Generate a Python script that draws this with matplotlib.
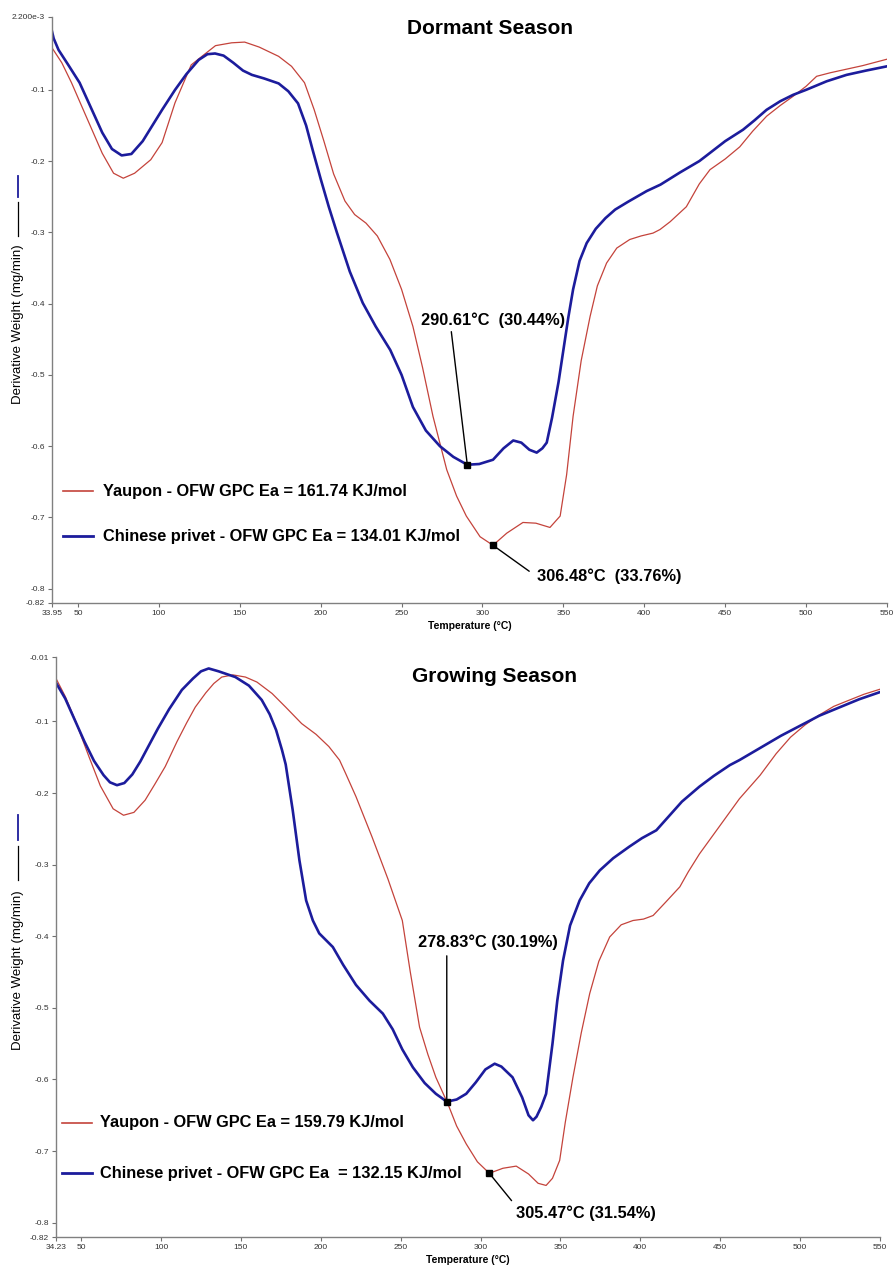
import matplotlib
matplotlib.use('Agg')
import matplotlib.pyplot as plt
from matplotlib.lines import Line2D
import numpy as np

plt.rcParams['font.family'] = ['Liberation Sans', 'DejaVu Sans']

# ---- Dormant season DTG curves (temperature in C, derivative weight in mg/min)
dorm_yaupon_t = [33.95, 40, 46, 55, 65, 72, 78, 85, 95, 102, 110, 120, 126.6, 135, 145, 153,
                 162, 174, 182, 190, 196, 202, 208, 215, 221, 228, 235, 242.8, 250, 257, 263,
                 269.4, 277.9, 284, 290, 298.5, 306.48, 315, 325, 333, 341.7, 348, 352, 356,
                 361, 366.5, 371, 376.7, 383, 391, 398, 405.4, 409.7, 416, 426, 434, 440.6,
                 450, 459, 467, 475.6, 484, 492, 500, 506.5, 515, 523, 535, 550]
dorm_yaupon_d = [-0.041, -0.062, -0.090, -0.137, -0.189, -0.217, -0.224, -0.217, -0.198, -0.174,
                 -0.118, -0.065, -0.053, -0.038, -0.034, -0.033, -0.040, -0.053, -0.067, -0.090,
                 -0.128, -0.172, -0.218, -0.256, -0.275, -0.287, -0.305, -0.338, -0.380, -0.432,
                 -0.490, -0.558, -0.633, -0.670, -0.698, -0.727, -0.739, -0.722, -0.707, -0.708,
                 -0.714, -0.698, -0.640, -0.558, -0.480, -0.418, -0.375, -0.343, -0.322, -0.310,
                 -0.305, -0.301, -0.296, -0.285, -0.264, -0.232, -0.212, -0.197, -0.180, -0.158,
                 -0.137, -0.122, -0.109, -0.095, -0.081, -0.076, -0.072, -0.066, -0.057]

dorm_privet_t = [33.95, 35, 38, 44, 51, 58, 65, 71, 77, 83, 90, 96, 102, 110, 117, 124.6, 130,
                 134.7, 140, 146, 152, 157.5, 165, 174, 180, 186, 191, 195, 200, 205, 210, 218,
                 226, 234, 243, 250, 257, 265, 273.7, 282, 290.61, 298, 306.5, 313, 319, 324,
                 329, 333.5, 337, 339.7, 343, 347, 350, 353, 356, 360, 364.4, 370, 376, 382,
                 390, 401.5, 410, 422, 434, 438.6, 450, 461, 468, 475.6, 484, 492, 500, 512.7,
                 525, 537, 550]
dorm_privet_d = [-0.018, -0.028, -0.044, -0.065, -0.090, -0.125, -0.160, -0.183, -0.192, -0.190,
                 -0.172, -0.150, -0.128, -0.100, -0.078, -0.058, -0.050, -0.049, -0.052, -0.062,
                 -0.073, -0.079, -0.084, -0.091, -0.102, -0.119, -0.150, -0.184, -0.225, -0.264,
                 -0.300, -0.355, -0.399, -0.432, -0.465, -0.500, -0.545, -0.578, -0.600, -0.615,
                 -0.626, -0.625, -0.619, -0.603, -0.592, -0.595, -0.605, -0.609, -0.603, -0.595,
                 -0.560, -0.510, -0.465, -0.420, -0.380, -0.340, -0.315, -0.295, -0.280, -0.268,
                 -0.257, -0.242, -0.233, -0.216, -0.200, -0.192, -0.172, -0.156, -0.143, -0.128,
                 -0.116, -0.107, -0.100, -0.088, -0.079, -0.073, -0.067]

# ---- Growing season DTG curves
grow_yaupon_t = [34.23, 40, 46.2, 55, 62, 70, 76.5, 83, 90, 96, 102.6, 110, 116, 121.4, 128,
                 133, 138, 145, 152.8, 160, 169.5, 178, 188, 197, 205, 211.7, 215.4, 222, 232,
                 242, 251, 256, 261.8, 267, 272, 279.5, 285, 291, 298, 305.47, 314, 322.3, 330,
                 336, 341, 345, 349.5, 353, 357.8, 363, 368.3, 374, 380.8, 388, 395.4, 402, 408,
                 416, 424.7, 430, 437, 450, 462, 475, 485, 494, 503, 512, 521, 531, 540, 550]
grow_yaupon_d = [-0.040, -0.065, -0.098, -0.150, -0.190, -0.222, -0.231, -0.227, -0.210, -0.188,
                 -0.163, -0.128, -0.102, -0.080, -0.060, -0.047, -0.038, -0.035, -0.038, -0.045,
                 -0.061, -0.080, -0.103, -0.118, -0.135, -0.154, -0.172, -0.205, -0.261, -0.320,
                 -0.378, -0.450, -0.527, -0.565, -0.597, -0.634, -0.665, -0.690, -0.715, -0.731,
                 -0.724, -0.721, -0.732, -0.745, -0.748, -0.738, -0.713, -0.660, -0.597, -0.535,
                 -0.480, -0.435, -0.401, -0.384, -0.378, -0.376, -0.371, -0.352, -0.331, -0.310,
                 -0.285, -0.245, -0.208, -0.175, -0.145, -0.122, -0.105, -0.091, -0.079, -0.070,
                 -0.062, -0.055]

grow_privet_t = [34.23, 40, 46, 52, 58, 64, 68, 72.4, 77, 82, 87, 92, 98, 105, 113, 120, 125,
                 129.8, 136, 146.5, 155, 163, 168, 172, 175.7, 178, 182.4, 186.6, 190.8, 195, 199,
                 207.5, 214, 222, 230.5, 238.8, 245, 251, 257.6, 265, 272, 278.83, 285, 291, 297,
                 303, 308.8, 313, 320, 326, 330, 332.8, 335, 338, 341, 345, 348, 351.6, 356, 362,
                 368, 374.6, 383, 393, 401, 410, 418, 426, 437, 446, 456, 462, 475, 488, 500,
                 512, 525, 537, 550]
grow_privet_d = [-0.046, -0.068, -0.098, -0.128, -0.155, -0.175, -0.185, -0.189, -0.186, -0.174,
                 -0.156, -0.135, -0.110, -0.083, -0.056, -0.040, -0.030, -0.026, -0.030, -0.038,
                 -0.050, -0.070, -0.090, -0.112, -0.140, -0.160, -0.224, -0.294, -0.350, -0.378,
                 -0.396, -0.415, -0.440, -0.468, -0.490, -0.508, -0.530, -0.558, -0.583, -0.605,
                 -0.620, -0.631, -0.628, -0.620, -0.604, -0.586, -0.578, -0.582, -0.597, -0.625,
                 -0.650, -0.657, -0.652, -0.638, -0.620, -0.550, -0.490, -0.434, -0.385, -0.350,
                 -0.326, -0.308, -0.291, -0.275, -0.263, -0.252, -0.232, -0.212, -0.191, -0.176,
                 -0.161, -0.154, -0.137, -0.120, -0.106, -0.092, -0.080, -0.069, -0.059]

# peak temperatures and mass-loss labels
dorm_peaks = [290.61, 306.48]
dorm_peak_labels = ['290.61°C  (30.44%)', '306.48°C  (33.76%)']
grow_peaks = [278.83, 305.47]
grow_peak_labels = ['278.83°C (30.19%)', '305.47°C (31.54%)']

dorm_legend = ['Yaupon - OFW GPC Ea = 161.74 KJ/mol',
               'Chinese privet - OFW GPC Ea = 134.01 KJ/mol']
grow_legend = ['Yaupon - OFW GPC Ea = 159.79 KJ/mol',
               'Chinese privet - OFW GPC Ea  = 132.15 KJ/mol']

dorm_yticks = [0.0022, -0.1, -0.2, -0.3, -0.4, -0.5, -0.6, -0.7, -0.8, -0.82]
dorm_yticklabels = ['2.200e-3', '-0.1', '-0.2', '-0.3', '-0.4', '-0.5', '-0.6', '-0.7', '-0.8', '-0.82']
grow_yticks = [-0.01, -0.1, -0.2, -0.3, -0.4, -0.5, -0.6, -0.7, -0.8, -0.82]
grow_yticklabels = ['-0.01', '-0.1', '-0.2', '-0.3', '-0.4', '-0.5', '-0.6', '-0.7', '-0.8', '-0.82']
xticks_main = [50, 100, 150, 200, 250, 300, 350, 400, 450, 500, 550]

RED = '#c4433b'
BLUE = '#1c1c9c'
W, H = 896, 1268


def fx(px):
    return px / W


def fy(py):
    return 1 - py / H


def draw_panel(fig, rect, yaupon, privet, t0, yticks, yticklabels, title, title_xy,
               legend, leg_y, peaks, peak_labels, offsets, ylab_span):
    ax = fig.add_axes(rect)
    ax.plot(yaupon[0], yaupon[1], color=RED, lw=0.9)
    ax.plot(privet[0], privet[1], color=BLUE, lw=1.9)

    ax.set_xlim(t0, 550)
    ax.set_ylim(-0.82, yticks[0])
    ax.set_xticks([t0] + xticks_main)
    ax.set_xticklabels(['%.2f' % t0] + [str(v) for v in xticks_main])
    ax.set_yticks(yticks)
    ax.set_yticklabels(yticklabels)
    ax.tick_params(labelsize=6, colors='#707070', labelcolor='#333333', length=3, width=0.8, pad=2)
    for s in ['top', 'right']:
        ax.spines[s].set_visible(False)
    for s in ['left', 'bottom']:
        ax.spines[s].set_color('#808080')
        ax.spines[s].set_linewidth(1.0)

    ax.set_xlabel('Temperature (°C)', fontsize=7.5, fontweight='bold', labelpad=3)

    # legend drawn by hand: short line + label
    for (lab, col, lw), yy in zip([(legend[0], RED, 1.2), (legend[1], BLUE, 2.0)], leg_y):
        ax.add_line(Line2D([leg_y[2], leg_y[3]], [yy, yy], color=col, lw=lw,
                           transform=ax.transAxes))
        ax.text(leg_y[4], yy, lab, transform=ax.transAxes, fontsize=11.8, fontweight='bold',
                va='center', ha='left')

    # peak markers with leader lines
    for (t, lab, off), curve in zip(zip(peaks, peak_labels, offsets), [privet, yaupon]):
        d = np.interp(t, curve[0], curve[1])
        ax.plot([t], [d], 's', color='black', ms=4.5, zorder=5)
        ax.annotate('', xy=(t, d), xytext=off[0], textcoords='offset points',
                    arrowprops=dict(arrowstyle='-', color='black', lw=1.0,
                                    shrinkA=0, shrinkB=0))
        ax.annotate(lab, xy=(t, d), xytext=off[1], textcoords='offset points',
                    ha=off[2], va='center', fontsize=11.8, fontweight='bold')

    fig.text(fx(title_xy[0]), fy(title_xy[1]), title, fontsize=15, fontweight='bold',
             ha='center', va='center')

    # y axis caption with its series swatch
    yb, ye, k0, k1, b0, b1 = ylab_span
    fig.text(fx(18), fy(yb), 'Derivative Weight (mg/min)', rotation=90, fontsize=9.5,
             ha='center', va='bottom')
    fig.add_artist(Line2D([fx(18), fx(18)], [fy(k0), fy(k1)], color='black', lw=0.9))
    fig.add_artist(Line2D([fx(18), fx(18)], [fy(b0), fy(b1)], color=BLUE, lw=1.3))
    return ax


fig = plt.figure(figsize=(W / 100, H / 100), dpi=100)
fig.patch.set_facecolor('white')

draw_panel(fig, [fx(52), fy(603), (887 - 52) / W, (603 - 17) / H],
           (dorm_yaupon_t, dorm_yaupon_d), (dorm_privet_t, dorm_privet_d), 33.95,
           dorm_yticks, dorm_yticklabels, 'Dormant Season', (490, 28),
           dorm_legend, [0.191, 0.114, 0.0132, 0.0491, 0.061],
           dorm_peaks, dorm_peak_labels,
           [((-11.5, 95.8), (18.7, 104.4), 'center'),
            ((26.1, -18.7), (31.9, -22.5), 'left')],
           (404, 240, 236, 202, 197, 176))

draw_panel(fig, [fx(56), fy(1237), (880 - 56) / W, (1237 - 657) / H],
           (grow_yaupon_t, grow_yaupon_d), (grow_privet_t, grow_privet_d), 34.23,
           grow_yticks, grow_yticklabels, 'Growing Season', (495, 676),
           grow_legend, [0.1966, 0.110, 0.0073, 0.0437, 0.0534],
           grow_peaks, grow_peak_labels,
           [((0, 105), (29.3, 114.5), 'center'),
            ((16, -19.7), (19, -29), 'left')],
           (1050, 885, 880, 846, 840, 815))

fig.savefig('out.png', dpi=100, facecolor='white')
